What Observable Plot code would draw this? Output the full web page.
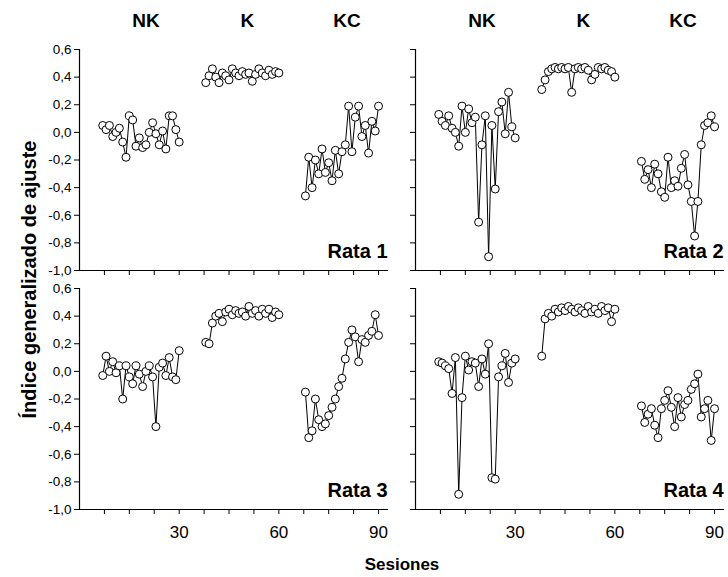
<!DOCTYPE html>
<html>
<head>
<meta charset="utf-8">
<script src="https://cdn.jsdelivr.net/npm/d3@7"></script>
<script src="https://cdn.jsdelivr.net/npm/@observablehq/plot@0.6"></script>
<style>
  body { margin: 0; background: #fff; }
  #chart svg { display: block; }
</style>
</head>
<body>
<div id="chart"></div>
<script>
// Sesiones de cada fase
const sesionesNK = [7, 8, 9, 10, 11, 12, 13, 14, 15, 16, 17, 18, 19, 20, 21, 22, 23, 24, 25, 26, 27, 28, 29, 30];
const sesionesK  = [38, 39, 40, 41, 42, 43, 44, 45, 46, 47, 48, 49, 50, 51, 52, 53, 54, 55, 56, 57, 58, 59, 60];
const sesionesKC = [68, 69, 70, 71, 72, 73, 74, 75, 76, 77, 78, 79, 80, 81, 82, 83, 84, 85, 86, 87, 88, 89, 90];

const fases = ["NK", "K", "KC"];
const ratas = ["Rata 1", "Rata 2", "Rata 3", "Rata 4"];

// Índice generalizado de ajuste
const rata1NK = [0.05, 0.02, 0.05, -0.03, 0.00, 0.03, -0.07, -0.18, 0.12, 0.09, -0.10, -0.04, -0.11, -0.09, 0.00, 0.07, -0.01, -0.09, 0.01, -0.12, 0.12, 0.12, 0.02, -0.07];
const rata1K  = [0.36, 0.41, 0.46, 0.40, 0.36, 0.43, 0.41, 0.38, 0.46, 0.43, 0.41, 0.44, 0.42, 0.43, 0.37, 0.42, 0.46, 0.43, 0.41, 0.45, 0.42, 0.44, 0.43];
const rata1KC = [-0.46, -0.18, -0.40, -0.20, -0.30, -0.12, -0.29, -0.22, -0.35, -0.13, -0.30, -0.14, -0.09, 0.19, -0.14, 0.11, 0.19, -0.03, 0.05, -0.15, 0.08, 0.01, 0.19];

const rata2NK = [0.13, 0.08, 0.05, 0.12, 0.03, 0.00, -0.10, 0.19, 0.00, 0.17, 0.07, 0.11, -0.65, -0.09, 0.12, -0.90, 0.05, -0.41, 0.15, 0.22, -0.01, 0.29, 0.04, -0.04];
const rata2K  = [0.31, 0.38, 0.44, 0.46, 0.47, 0.46, 0.47, 0.46, 0.47, 0.29, 0.46, 0.47, 0.46, 0.47, 0.45, 0.38, 0.42, 0.47, 0.46, 0.47, 0.45, 0.44, 0.40];
const rata2KC = [-0.21, -0.34, -0.27, -0.40, -0.23, -0.30, -0.43, -0.47, -0.18, -0.40, -0.35, -0.39, -0.26, -0.16, -0.38, -0.50, -0.75, -0.50, -0.09, 0.05, 0.07, 0.12, 0.04];

const rata3NK = [-0.03, 0.11, 0.00, 0.07, -0.01, 0.04, -0.20, 0.04, -0.04, -0.09, 0.04, -0.02, -0.11, 0.00, 0.04, -0.04, -0.40, 0.03, 0.06, -0.03, 0.10, -0.04, -0.06, 0.15];
const rata3K  = [0.21, 0.20, 0.35, 0.40, 0.42, 0.36, 0.43, 0.45, 0.41, 0.44, 0.42, 0.43, 0.40, 0.47, 0.42, 0.44, 0.40, 0.45, 0.42, 0.45, 0.39, 0.43, 0.41];
const rata3KC = [-0.15, -0.48, -0.43, -0.20, -0.35, -0.40, -0.38, -0.32, -0.26, -0.20, -0.11, -0.05, 0.09, 0.21, 0.30, 0.25, 0.07, 0.23, 0.21, 0.26, 0.29, 0.41, 0.26];

const rata4NK = [0.07, 0.06, 0.04, 0.02, -0.16, 0.10, -0.89, -0.19, 0.11, 0.01, 0.07, 0.06, -0.11, 0.09, -0.02, 0.20, -0.77, -0.78, -0.04, 0.04, 0.13, -0.08, 0.06, 0.09];
const rata4K  = [0.11, 0.38, 0.42, 0.40, 0.45, 0.43, 0.46, 0.44, 0.47, 0.45, 0.43, 0.46, 0.44, 0.42, 0.47, 0.43, 0.45, 0.42, 0.47, 0.44, 0.46, 0.36, 0.45];
const rata4KC = [-0.25, -0.37, -0.31, -0.27, -0.39, -0.48, -0.27, -0.21, -0.14, -0.26, -0.40, -0.19, -0.33, -0.24, -0.21, -0.13, -0.09, -0.02, -0.33, -0.27, -0.21, -0.50, -0.27];

// Marcas de los ejes
const ticksY = [-1.0, -0.8, -0.6, -0.4, -0.2, 0.0, 0.2, 0.4, 0.6];
const ticksX = [7.5, 15, 22.5, 30, 37.5, 45, 52.5, 60, 67.5, 75, 82.5, 90];
const etiquetasX = [30, 60, 90];

// Tabla construida a partir de los arreglos
const sesionesPorFase = {NK: sesionesNK, K: sesionesK, KC: sesionesKC};
const valores = [
  {NK: rata1NK, K: rata1K, KC: rata1KC},
  {NK: rata2NK, K: rata2K, KC: rata2KC},
  {NK: rata3NK, K: rata3K, KC: rata3KC},
  {NK: rata4NK, K: rata4K, KC: rata4KC}
];
const tabla = [];
ratas.forEach((nombre, i) => {
  const col = i % 2, row = Math.floor(i / 2);
  fases.forEach(fase => {
    sesionesPorFase[fase].forEach((s, j) => {
      tabla.push({rata: nombre, col, row, fase, sesion: s, valor: valores[i][fase][j]});
    });
  });
});
const etiquetasRata = ratas.map((nombre, i) => ({nombre, col: i % 2, row: Math.floor(i / 2)}));
const encabezados = [];
[0, 1].forEach(col => fases.forEach(fase => {
  const ses = sesionesPorFase[fase];
  encabezados.push({col, row: 0, fase, x: (ses[0] + ses[ses.length - 1]) / 2});
}));

const fmt = d => d.toFixed(1).replace(".", ",");

const chart = Plot.plot({
  width: 728,
  height: 577,
  marginLeft: 78,
  marginRight: 3,
  marginTop: 49,
  marginBottom: 68,
  style: {fontFamily: "'Liberation Sans', Arial, sans-serif", color: "#000", background: "#fff"},
  fx: {domain: [0, 1], paddingInner: 0.08, paddingOuter: 0},
  fy: {domain: [0, 1], paddingInner: 0.077, paddingOuter: 0, axis: null},
  x: {domain: [0, 93]},
  y: {domain: [-1, 0.6]},
  marks: [
    Plot.ruleX([0], {y1: -1, y2: 0.6, stroke: "#000", strokeWidth: 1.2}),
    Plot.ruleY([-1], {x1: 0, x2: 93, stroke: "#000", strokeWidth: 1.2}),
    Plot.axisY({ticks: ticksY, tickSize: 5, tickFormat: () => "", label: null, facetAnchor: null, stroke: "#000"}),
    Plot.axisY({ticks: ticksY, tickSize: 0, tickPadding: 8, tickFormat: fmt, label: null, facetAnchor: "left", fontSize: 13.5}),
    Plot.axisX({ticks: ticksX, tickSize: 5, tickFormat: () => "", label: null, facetAnchor: null, stroke: "#000"}),
    Plot.axisX({ticks: etiquetasX, tickSize: 0, tickPadding: 16, label: null, facetAnchor: "bottom", fontSize: 17}),
    Plot.axisFx({anchor: "bottom", label: "Sesiones", labelAnchor: "center", labelOffset: 60, tickSize: 0, tickFormat: () => "", fontSize: 17, fontWeight: "bold"}),
    Plot.text(["Índice generalizado de ajuste"], {facet: "super", frameAnchor: "left", textAnchor: "middle", lineAnchor: "middle", rotate: -90, dx: -50, fontSize: 20, fontWeight: "bold"}),
    Plot.line(tabla, {fx: "col", fy: "row", x: "sesion", y: "valor", z: "fase", stroke: "#000", strokeWidth: 1}),
    Plot.dot(tabla, {fx: "col", fy: "row", x: "sesion", y: "valor", r: 4, stroke: "#000", fill: "#fff", strokeWidth: 1}),
    Plot.text(encabezados, {fx: "col", fy: "row", x: "x", frameAnchor: "top", lineAnchor: "middle", dx: 5, dy: -29, text: "fase", fontSize: 19, fontWeight: "bold"}),
    Plot.text(etiquetasRata, {fx: "col", fy: "row", frameAnchor: "bottom-right", lineAnchor: "middle", text: "nombre", textAnchor: "end", dx: -1, dy: -19, fontSize: 20, fontWeight: "bold"})
  ]
});
document.getElementById("chart").appendChild(chart);
</script>
</body>
</html>
